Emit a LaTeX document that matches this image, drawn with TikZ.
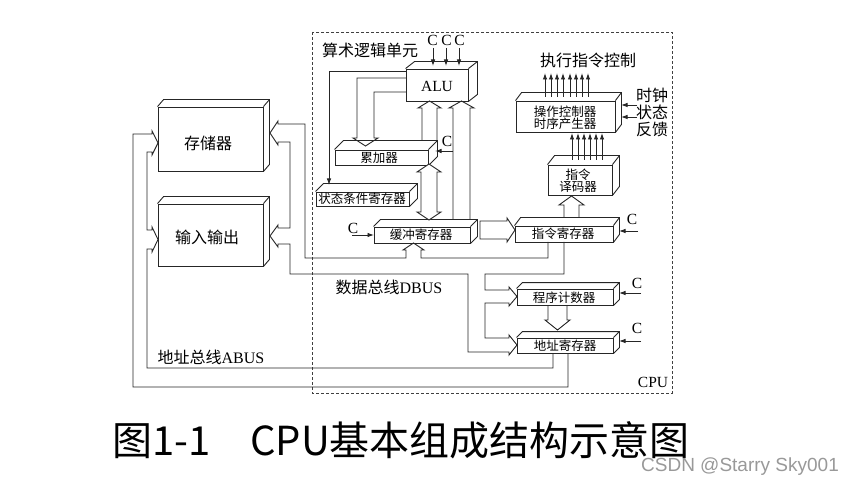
\documentclass[tikz,border=0pt]{standalone}
\usepackage{fontspec}
\setmainfont{Liberation Serif}
\newfontfamily\cjk{Noto Sans CJK SC}
\newfontfamily\wmfont{Liberation Sans}
\usetikzlibrary{calc,arrows.meta}
\newcommand{\fs}[1]{\fontsize{#1}{#1}\selectfont}
% 3D box: name, x1, y1, x2, y2, dx, dy
\newcommand{\cube}[7]{%
  \node[ln, draw, fill=white, inner sep=0pt, minimum width={(#4)-(#2)}, minimum height={(#5)-(#3)}]
     (#1) at ({((#2)+(#4))/2},{((#3)+(#5))/2}) {};
  \draw[ln] (#1.north west) -- ++(#6,-#7) -- ($(#1.north east)+(#6,-#7)$) -- ($(#1.south east)+(#6,-#7)$) -- (#1.south east)
            (#1.north east) -- ++(#6,-#7);
}
\begin{document}
\begin{tikzpicture}[x=1pt,y=-1pt,
  ln/.style={line width=0.9pt, draw=black!85},
  arr/.style={ln, -{Latex[length=6.5pt,width=4.5pt]}},
  lbl/.style={font=\cjk\fs{16}, inner sep=0pt},
  blbl/.style={font=\cjk\fs{12.5}, inner sep=0pt, align=center},
  tlbl/.style={font=\fs{15.5}, inner sep=0pt}]
\useasboundingbox (0,0) rectangle (856,486);
\fill[white] (0,0) rectangle (856,486);

% CPU dashed frame
\draw[line width=0.9pt, draw=black!75, dash pattern=on 3pt off 2pt] (312,32) rectangle (672,393);
\node[tlbl] (cpu) at (653,382) {CPU};

% boxes
\cube{mem}{158}{107}{263}{171}{6}{7}
\cube{io}{158}{204}{263}{266}{6}{7}
\cube{alu}{406}{69}{468}{101}{9}{7}
\cube{acc}{335}{150}{428}{165}{9}{9}
\cube{psw}{316}{192}{409}{206}{8}{8}
\cube{dr}{374}{227}{470}{243}{7}{7}
\cube{ir}{515}{226}{613}{242}{6}{8}
\cube{id}{548}{165}{612}{195}{7}{9}
\cube{cu}{516}{101}{615}{132}{6}{8}
\cube{pc}{517}{289}{613}{305}{6}{6}
\cube{ar}{517}{338}{613}{353}{6}{6}

\node[lbl] (memt) at (208,143) {存储器};
\node[lbl] (iot) at (207,237) {输入输出};
\node[tlbl] (alut) at (437,86) {ALU};
\node[blbl] (acct) at (379,157.5) {累加器};
\node[blbl] (pswt) at (362,199) {状态条件寄存器};
\node[blbl] (drt) at (421,235) {缓冲寄存器};
\node[blbl] (irt) at (563,234) {指令寄存器};
\node[blbl] (idt) at (578,180.5) {指令\\[-0.5pt]译码器};
\node[blbl] (cut) at (565,118) {操作控制器\\[-0.5pt]时序产生器};
\node[blbl] (pct) at (564,297.5) {程序计数器};
\node[blbl] (art) at (565,346) {地址寄存器};

% labels
\node[lbl] (alun) at (370,50) {算术逻辑单元};
\node[lbl] (exec) at (588,60) {执行指令控制};
\node[lbl] (clk) at (652,95) {时钟};
\node[lbl] (stat) at (652,112) {状态};
\node[lbl] (fb) at (652,129) {反馈};
\node[lbl] (dbus) at (389,287) {数据总线{\rmfamily DBUS}};
\node[lbl] (abus) at (211,357) {地址总线{\rmfamily ABUS}};

% C control inputs
\node[tlbl] (c1) at (432.5,40) {C};
\node[tlbl] (c2) at (446.5,40) {C};
\node[tlbl] (c3) at (459.5,40) {C};
\draw[arr] (433,48) -- (433,66);
\draw[arr] (446,48) -- (446,66);
\draw[arr] (459,48) -- (459,66);
\node[tlbl] (cacc) at (447,141) {C};
\draw[arr] (453,151) -- (435,151);
\node[tlbl] (cdr) at (353,228) {C};
\draw[arr] (352,235) -- (374,235);
\node[tlbl] (cir) at (632,219) {C};
\draw[arr] (638,231) -- (619,231);
\node[tlbl] (cpc) at (637,283) {C};
\draw[arr] (641,293) -- (619,293);
\node[tlbl] (car) at (637,328) {C};
\draw[arr] (641,341) -- (619,341);

% clock/status into CU
\draw[arr] (637,105) -- (621,105);
\draw[arr] (637,117) -- (621,117);

% control outputs
\foreach \x in {545,551,557,563,570,576,582,588} \draw[arr] (\x,97) -- (\x,73);
\foreach \x in {572,578,584,590,596,602} \draw[arr] (\x,160) -- (\x,133);

% ALU -> status register
\draw[arr] (406,71) -| (329,185);
% ALU -> ACC (hollow)
\draw[ln] (406,78) -- (357,78) -- (357,138) -- (353,138) -- (365.5,146) -- (378,138) -- (374,138) -- (374,92) -- (406,92);
% ACC -> ALU (hollow)
\draw[ln] (422,141) -- (422,108) -- (418,108) -- (429.5,101) -- (441,108) -- (437,108) -- (437,141);
% DR -> ALU (hollow)
\draw[ln] (453,220) -- (453,108) -- (449,108) -- (461.5,101) -- (474,108) -- (470,108) -- (470,220);
% ACC <-> DR
\draw[ln, fill=white] (421,172) -- (417,172) -- (429,164) -- (441,172) -- (437,172) -- (437,212) -- (441,212) -- (429,220) -- (417,212) -- (421,212) -- cycle;
% DR -> IR
\draw[ln] (480,221) -- (507,221) -- (507,218) -- (515,230) -- (507,242) -- (507,239) -- (480,239) -- cycle;
% IR -> ID
\draw[ln] (564,218) -- (564,205) -- (559,205) -- (571.5,196) -- (584,205) -- (579,205) -- (579,218);
% PC -> AR
\draw[ln] (548,305) -- (548,320) -- (545,320) -- (557.5,330) -- (570,320) -- (567,320) -- (567,305);

% data bus
\draw[ln] (548,242) -- (548,258) -- (421,258) -- (421,250) -- (424,250) -- (413.5,243) -- (403,250) -- (406,250) -- (406,258)
  -- (305,258) -- (305,124) -- (278,124) -- (278,121) -- (270,133) -- (278,145) -- (278,142) -- (290,142)
  -- (290,228) -- (278,228) -- (278,225) -- (270,236) -- (278,247) -- (278,244) -- (290,244)
  -- (290,274) -- (468,274) -- (468,352) -- (509,352) -- (509,355) -- (517,345) -- (509,335) -- (509,338)
  -- (485,338) -- (485,303) -- (509,303) -- (509,306) -- (517,296.5) -- (509,287) -- (509,290)
  -- (485,290) -- (485,274) -- (564,274) -- (564,242);

% address bus
\draw[ln] (568,353) -- (568,387) -- (133,387) -- (133,134) -- (152,134) -- (152,131) -- (158,143) -- (152,155) -- (152,152)
  -- (147,152) -- (147,230) -- (152,230) -- (152,227) -- (158,239.5) -- (152,252) -- (152,249) -- (147,249)
  -- (147,368) -- (553,368) -- (553,353);

% caption and watermark
\node[font=\cjk\fs{40}, inner sep=0pt] (cap) at (401,440) {图1-1　CPU基本组成结构示意图};
\node[font=\wmfont\fs{19}, text=black!40, inner sep=0pt] (wm) at (740,467) {CSDN @Starry Sky001};
\end{tikzpicture}
\end{document}
